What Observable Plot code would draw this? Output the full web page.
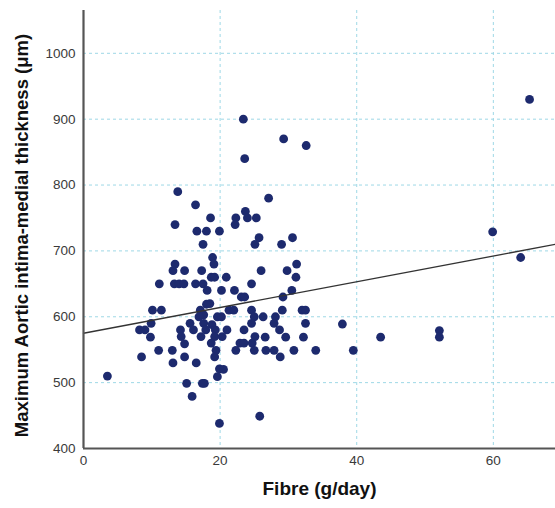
<!DOCTYPE html>
<html>
<head>
<meta charset="utf-8">
<script src="https://cdn.jsdelivr.net/npm/d3@7"></script>
<script src="https://cdn.jsdelivr.net/npm/@observablehq/plot@0.6"></script>
<style>
  html, body { margin: 0; padding: 0; background: #fff; }
  #chart svg { display: block; }
</style>
</head>
<body>
<div id="chart"></div>
<script>
const fibre = [
  3.5, 23.4, 23.6, 29.3, 32.6, 27.1, 13.8, 16.4, 13.4, 18.6,
  16.6, 18.0, 19.9, 17.5, 22.3, 22.2, 23.7, 24.0, 25.3, 25.7,
  25.1, 29.0, 30.6, 18.9, 19.1, 13.4, 13.1, 14.8, 17.3, 26.0,
  29.8, 31.2, 31.1, 18.7, 19.2, 20.9, 11.1, 13.3, 14.0, 14.7,
  16.4, 17.5, 24.6, 18.1, 20.2, 22.1, 30.5, 23.1, 23.6, 29.2,
  18.5, 18.0, 10.1, 11.4, 17.1, 17.6, 21.3, 22.0, 24.6, 29.1,
  32.0, 32.5, 16.9, 19.6, 20.2, 25.0, 26.3, 28.1, 9.9, 15.6,
  17.6, 18.8, 24.6, 27.9, 32.5, 8.2, 9.0, 14.2, 16.1, 17.9,
  19.3, 21.0, 23.5, 28.7, 9.8, 14.3, 17.2, 19.2, 20.3, 25.1,
  26.6, 29.6, 32.2, 14.8, 18.7, 22.9, 23.5, 24.7, 11.0, 13.0,
  19.4, 22.3, 25.0, 26.7, 27.9, 30.8, 34.0, 8.5, 14.8, 19.2,
  28.8, 13.1, 16.5, 19.9, 20.5, 19.6, 15.1, 17.4, 17.7, 15.9,
  25.8, 19.9, 37.9, 39.5, 43.5, 52.1, 52.1, 59.9, 64.0, 65.3
];
const thickness = [
  510, 900, 840, 870, 860, 780, 790, 770, 740, 750,
  730, 730, 730, 710, 750, 740, 760, 750, 750, 720,
  710, 710, 720, 690, 680, 680, 670, 670, 670, 670,
  670, 680, 660, 660, 660, 660, 650, 650, 650, 650,
  650, 650, 650, 640, 640, 640, 640, 630, 630, 630,
  620, 619, 610, 610, 610, 603, 610, 610, 610, 610,
  610, 610, 600, 600, 600, 600, 600, 600, 590, 590,
  590, 588, 590, 590, 590, 580, 580, 580, 580, 580,
  580, 580, 580, 580, 569, 570, 570, 570, 570, 570,
  569, 569, 569, 559, 560, 560, 560, 560, 549, 549,
  549, 549, 549, 549, 549, 549, 549, 539, 539, 539,
  539, 530, 530, 521, 520, 509, 499, 499, 499, 479,
  449, 438, 589, 549, 569, 579, 569, 729, 690, 930
];
const xTicks = [0, 20, 40, 60];
const yTicks = [400, 500, 600, 700, 800, 900, 1000];
const xGrid = [20, 40, 60];
const yGrid = [500, 600, 700, 800, 900, 1000];
const fitX = [0, 69.1];
const fitY = [575, 710];

const points = fibre.map((f, i) => ({f, t: thickness[i]}));
const fit = fitX.map((x, i) => ({x, y: fitY[i]}));

const chart = Plot.plot({
  width: 555,
  height: 508,
  marginLeft: 83,
  marginRight: 0,
  marginTop: 10,
  marginBottom: 60,
  style: {fontFamily: "Liberation Sans, Arial, sans-serif", fontSize: "12px", color: "#333", background: "#fff"},
  x: {domain: [0, 69.1], label: null},
  y: {domain: [400, 1065], label: null},
  marks: [
    Plot.ruleX(xGrid, {stroke: "#9ed8e6", strokeWidth: 1, strokeDasharray: "3,3"}),
    Plot.ruleY(yGrid, {stroke: "#9ed8e6", strokeWidth: 1, strokeDasharray: "3,3"}),
    Plot.dot(points, {x: "f", y: "t", r: 4.4, fill: "#1d2a6e", stroke: "none"}),
    Plot.line(fit, {x: "x", y: "y", stroke: "#333", strokeWidth: 1.3}),
    Plot.ruleX([0], {stroke: "#555", strokeWidth: 2.2}),
    Plot.ruleY([400], {stroke: "#555", strokeWidth: 2.2}),
    Plot.axisX({ticks: xTicks, tickSize: 0, tickPadding: 7, fontSize: 13.5, fill: "#3a3a3a", tickFormat: d => String(d)}),
    Plot.axisY({ticks: yTicks, tickSize: 0, tickPadding: 8, fontSize: 13.5, fill: "#3a3a3a", tickFormat: d => String(d)}),
    Plot.text(["Fibre (g/day)"], {frameAnchor: "bottom", dy: 46, fontSize: 19, fontWeight: "bold", fill: "#111"}),
    Plot.text(["Maximum Aortic intima-medial thickness (μm)"], {frameAnchor: "left", dx: -61, dy: 6, rotate: -90, textAnchor: "middle", fontSize: 18.5, fontWeight: "bold", fill: "#111"})
  ]
});
document.getElementById("chart").appendChild(chart);
</script>
</body>
</html>
